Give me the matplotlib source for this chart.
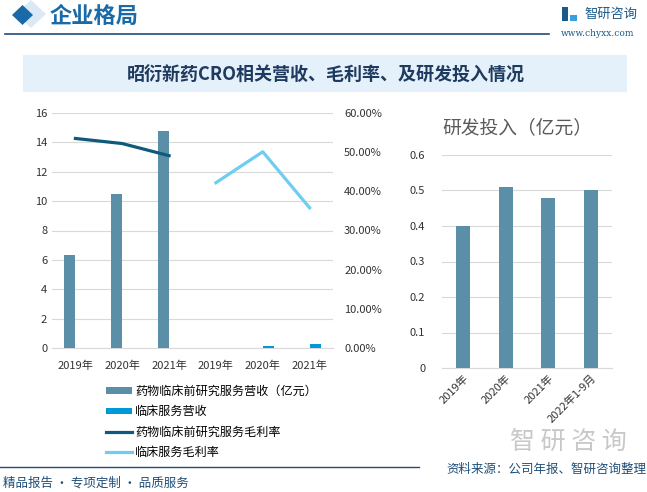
import numpy as np
import matplotlib
matplotlib.use('Agg')
import matplotlib.pyplot as plt
from matplotlib.patches import Rectangle, Polygon
from matplotlib.lines import Line2D
from matplotlib.ticker import FuncFormatter

plt.rcParams['font.family'] = ['Noto Sans CJK SC', 'DejaVu Sans']

# 数据
years = ['2019年', '2020年', '2021年']
left_cats = years + years
pre_rev = [6.3, 10.5, 14.8]          # 药物临床前研究服务营收（亿元）
clin_rev = [0.0, 0.16, 0.28]         # 临床服务营收
pre_margin = [0.535, 0.522, 0.491]   # 药物临床前研究服务毛利率
clin_margin = [0.422, 0.501, 0.358]  # 临床服务毛利率

rd_cats = ['2019年', '2020年', '2021年', '2022年1-9月']
rd_vals = [0.40, 0.51, 0.48, 0.50]   # 研发投入（亿元）

c_bar = '#5b8fa8'
c_bar2 = '#0099d6'
c_line1 = '#0f5a7c'
c_line2 = '#6fcdf2'
c_grid = '#d9d9d9'
c_navy = '#1f4e79'

W, H = 647, 492
fig = plt.figure(figsize=(W / 100, H / 100), dpi=100)

def fx(px):
    return px / W

def fy(py):
    return 1 - py / H

def diamond(cx, cy, rx, ry, color):
    pts = [(fx(cx - rx), fy(cy)), (fx(cx), fy(cy - ry)), (fx(cx + rx), fy(cy)), (fx(cx), fy(cy + ry))]
    fig.add_artist(Polygon(pts, closed=True, color=color, lw=0, transform=fig.transFigure))

# 页眉
diamond(31, 14, 15, 14, '#dbe9f5')
diamond(22.5, 15, 10.5, 10, '#1a6aa8')
fig.text(fx(50), fy(16), '企业格局', fontsize=16, fontweight='bold', color='#1a6aa8', va='center')
fig.add_artist(Line2D([fx(5), fx(549)], [fy(34), fy(34)], color=c_navy, lw=1.2))
fig.add_artist(Rectangle((fx(562), fy(21)), fx(6), 14 / H, color='#1a5a8a', lw=0))
fig.add_artist(Rectangle((fx(570), fy(21)), fx(7), 6 / H, color='#3aa0dc', lw=0))
fig.text(fx(584), fy(14), '智研咨询', fontsize=9.5, color='#1a5a8a', va='center')
fig.text(fx(598), fy(33), 'www.chyxx.com', fontsize=6.5, color='#1a5a8a', ha='center', va='center',
         family='DejaVu Serif')

# 标题栏
fig.add_artist(Rectangle((fx(23), fy(92)), fx(604), 37 / H, color='#e4f1fa', lw=0))
fig.text(fx(326), fy(75), '昭衍新药CRO相关营收、毛利率、及研发投入情况', fontsize=13,
         fontweight='bold', color='#1f3a5f', ha='center', va='center')

# 左图：营收与毛利率
ax = fig.add_axes([fx(52), fy(348), fx(333 - 52), (348 - 113) / H])
x = np.arange(len(left_cats))
w = 0.24
ax.bar(x[:3] - w / 2, pre_rev, width=w, color=c_bar, label='药物临床前研究服务营收（亿元）', zorder=3)
ax.bar(x[3:] + w / 2, clin_rev, width=w, color=c_bar2, label='临床服务营收', zorder=3)
ax.set_xlim(-0.5, len(left_cats) - 0.5)
ax.set_ylim(0, 16)
ax.set_yticks(np.arange(0, 17, 2))
ax.set_xticks(x)
ax.set_xticklabels(left_cats)
ax.grid(axis='y', color=c_grid, lw=0.8, zorder=0)
for s in ['top', 'left', 'right']:
    ax.spines[s].set_visible(False)
ax.spines['bottom'].set_color(c_grid)
ax.tick_params(length=0, labelsize=8, colors='#333333')
ax.tick_params(axis='x', pad=9)

ax2 = ax.twinx()
ax2.plot(x[:3], pre_margin, color=c_line1, lw=2.3, label='药物临床前研究服务毛利率', zorder=4)
ax2.plot(x[3:], clin_margin, color=c_line2, lw=2.3, label='临床服务毛利率', zorder=4)
ax2.set_ylim(0, 0.6)
ax2.set_yticks(np.arange(0, 0.61, 0.1))
ax2.yaxis.set_major_formatter(FuncFormatter(lambda v, p: f'{v * 100:.2f}%'))
for s in ['top', 'left', 'right', 'bottom']:
    ax2.spines[s].set_visible(False)
ax2.tick_params(length=0, labelsize=8, colors='#333333', pad=8)

h1, l1 = ax.get_legend_handles_labels()
h2, l2 = ax2.get_legend_handles_labels()
fig.legend(h1 + h2, l1 + l2, loc='upper left', bbox_to_anchor=(fx(101), fy(380)),
           frameon=False, fontsize=8.7, handlelength=2.2, handleheight=0.5,
           labelspacing=0.62, handletextpad=0.2, borderaxespad=0)

# 右图：研发投入
ax3 = fig.add_axes([fx(442), fy(368), fx(170), (368 - 155) / H])
xr = np.arange(len(rd_cats))
ax3.bar(xr, rd_vals, width=0.33, color=c_bar, zorder=3)
ax3.set_xlim(-0.5, len(rd_cats) - 0.5)
ax3.set_ylim(0, 0.6)
ax3.set_yticks(np.arange(0, 0.61, 0.1))
ax3.yaxis.set_major_formatter(FuncFormatter(lambda v, p: '0' if v == 0 else f'{v:.1f}'))
ax3.set_xticks(xr)
ax3.set_xticklabels(rd_cats, rotation=45, ha='right', rotation_mode='anchor')
ax3.grid(axis='y', color=c_grid, lw=0.8, zorder=0)
for s in ['top', 'left', 'right']:
    ax3.spines[s].set_visible(False)
ax3.spines['bottom'].set_color(c_grid)
ax3.tick_params(length=0, labelsize=8, colors='#333333')
ax3.tick_params(axis='y', pad=12)
ax3.set_title('研发投入（亿元）', loc='left', fontsize=13.5, color='#595959', pad=16)

# 页脚
fig.add_artist(Line2D([0, fx(419)], [fy(467), fy(467)], color=c_navy, lw=1))
fig.text(fx(3), fy(483), '精品报告 · 专项定制 · 品质服务', fontsize=9, color=c_navy, va='center')
fig.text(fx(646), fy(469), '资料来源：公司年报、智研咨询整理', fontsize=9, color=c_navy,
         ha='right', va='center')
fig.text(fx(627), fy(442), '智 研 咨 询', fontsize=18, color='#c8c8c8', ha='right', va='center')

plt.savefig('out.png', dpi=100)
